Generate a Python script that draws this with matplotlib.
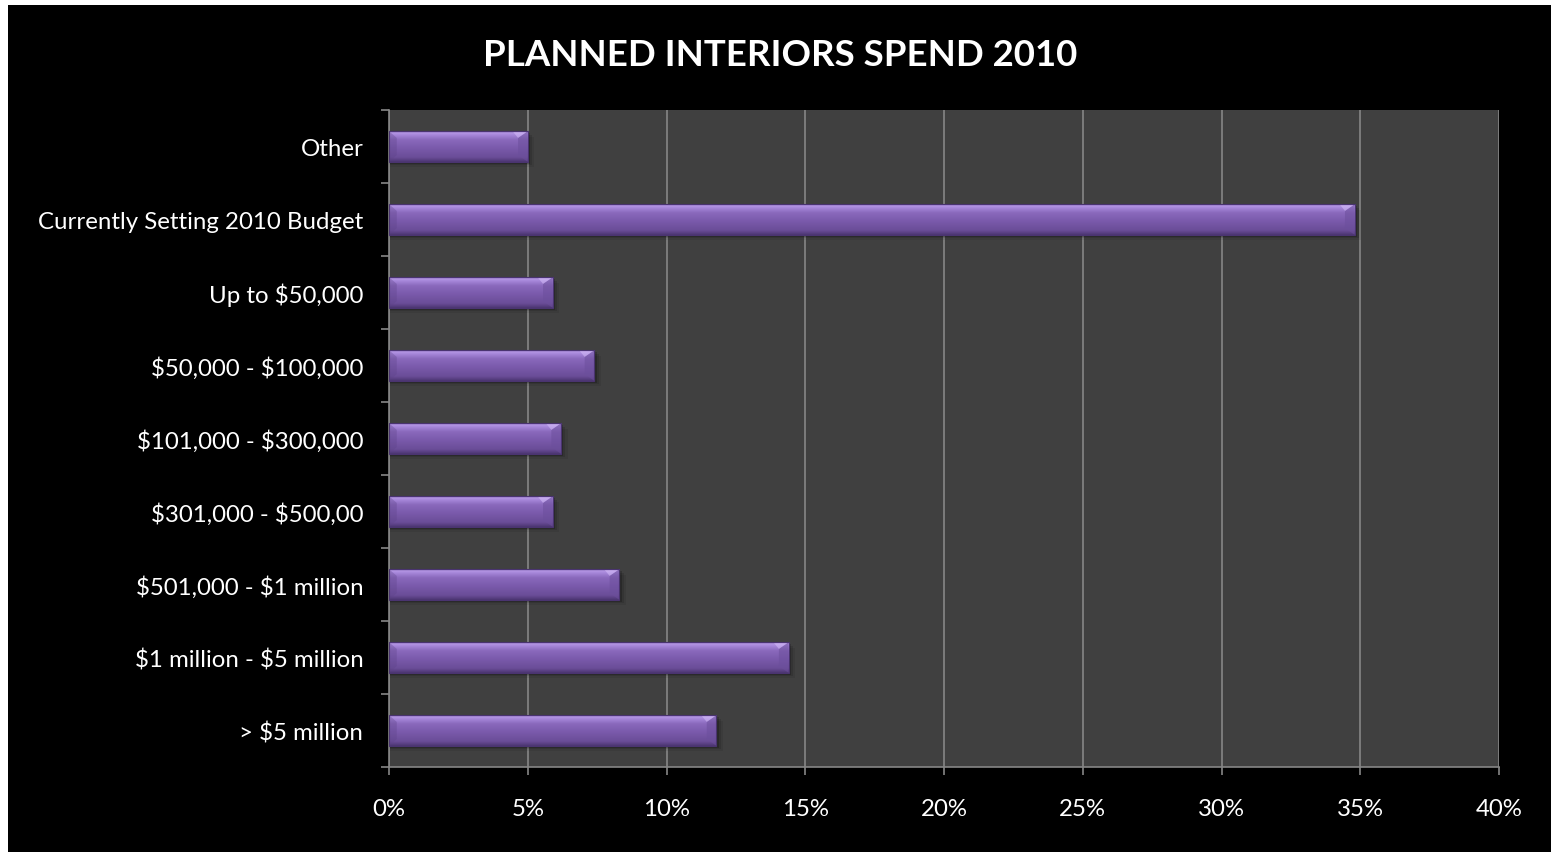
import numpy as np
import matplotlib
matplotlib.use("Agg")
import matplotlib.pyplot as plt
from matplotlib.patches import Rectangle, Polygon
from matplotlib.colors import LinearSegmentedColormap
from matplotlib.ticker import FixedLocator, FuncFormatter

plt.rcParams["text.parse_math"] = False

# Survey categories, listed top to bottom
categories = [
    "Other",
    "Currently Setting 2010 Budget",
    "Up to $50,000",
    "$50,000 - $100,000",
    "$101,000 - $300,000",
    "$301,000 - $500,00",
    "$501,000 - $1 million",
    "$1 million - $5 million",
    "> $5 million",
]
# Share of respondents (%)
shares = [5.0, 34.8, 5.9, 7.4, 6.2, 5.9, 8.3, 14.4, 11.8]
x_ticks = [0, 5, 10, 15, 20, 25, 30, 35, 40]

title = "PLANNED INTERIORS SPEND 2010"
font = "Lato"

W, H = 1551, 853
fig = plt.figure(figsize=(W / 100, H / 100), dpi=100, facecolor="black")
# thin white margin along the top and left edges
fig.add_artist(Rectangle((0, 1 - 6 / H), 1, 6 / H, transform=fig.transFigure,
                         facecolor="white", edgecolor="none", zorder=-10))
fig.add_artist(Rectangle((0, 0), 8 / W, 1, transform=fig.transFigure,
                         facecolor="white", edgecolor="none", zorder=-10))

ax = fig.add_axes([389 / W, 1 - 768 / H, (1499 - 389) / W, (768 - 111) / H])
ax.set_zorder(5)
ax.set_facecolor("#404040")

grid_col = "#868686"
bar_h = 0.42
ypos = np.arange(len(categories))

# vertical shading of the bevelled bars (top -> bottom)
bar_cmap = LinearSegmentedColormap.from_list("bevel", [
    (0.00, "#5a4284"),
    (0.05, "#b597e6"),
    (0.14, "#a383d6"),
    (0.28, "#8a69bc"),
    (0.55, "#7a5aab"),
    (0.85, "#6a4d98"),
    (1.00, "#4b3570"),
])
grad = np.linspace(0, 1, 256).reshape(-1, 1)

bars = ax.barh(ypos, shares, height=bar_h, facecolor="none",
               edgecolor="none", zorder=3)

for rect, val, y in zip(bars, shares, ypos):
    y0 = y - bar_h / 2
    # soft drop shadow
    for k, a in enumerate([0.18, 0.12, 0.07]):
        off = 0.025 * (k + 1)
        ax.add_patch(Rectangle((0, y0 + off), val + 0.08 * (k + 1), bar_h,
                               facecolor="black", alpha=a, edgecolor="none",
                               zorder=2))
    im = ax.imshow(grad, cmap=bar_cmap, aspect="auto",
                   extent=(0, val, y0 + bar_h, y0), zorder=3,
                   interpolation="bilinear")
    im.set_clip_path(rect)
    # bevelled right end
    bev_w = 0.35
    bev_h = bar_h * 0.22
    ax.add_patch(Polygon([(val - bev_w, y0 + bev_h), (val, y0),
                          (val, y0 + bar_h), (val - bev_w, y0 + bar_h - bev_h)],
                         closed=True, facecolor="#6c4f9c", alpha=0.55,
                         edgecolor="none", zorder=4))
    ax.add_patch(Polygon([(val - bev_w, y0 + bev_h), (val, y0),
                          (val - bev_w - 0.2, y0)],
                         closed=True, facecolor="#d9c2fb", alpha=0.5,
                         edgecolor="none", zorder=4))
    # bevelled left end
    ax.add_patch(Polygon([(0, y0), (bev_w * 0.8, y0 + bev_h),
                          (bev_w * 0.8, y0 + bar_h - bev_h), (0, y0 + bar_h)],
                         closed=True, facecolor="#5e4389", alpha=0.35,
                         edgecolor="none", zorder=4))
    ax.add_patch(Rectangle((0, y0), val, bar_h, facecolor="none",
                           edgecolor="#4a3470", linewidth=0.8, zorder=5))

ax.set_xlim(0, 40)
ax.set_ylim(len(categories) - 0.5, -0.5)

ax.xaxis.set_major_locator(FixedLocator(x_ticks))
ax.xaxis.set_major_formatter(FuncFormatter(lambda v, p: f"{v:.0f}%"))
ax.grid(axis="x", color=grid_col, linewidth=1.2, zorder=1)
ax.set_axisbelow(True)

ax.set_yticks(ypos)
ax.set_yticklabels(categories)
ax.set_yticks(np.arange(-0.5, len(categories), 1.0), minor=True)

ax.tick_params(axis="y", which="major", length=0, pad=18.5,
               labelcolor="white", labelsize=17.3)
ax.tick_params(axis="y", which="minor", length=6, width=1.2,
               color=grid_col, direction="out")
ax.tick_params(axis="x", which="major", length=6, width=1.2,
               color=grid_col, direction="out", pad=16,
               labelcolor="white", labelsize=17.3)

for lab in ax.get_xticklabels() + ax.get_yticklabels():
    lab.set_fontfamily(font)

for side in ["top", "right"]:
    ax.spines[side].set_visible(False)
for side in ["left", "bottom"]:
    ax.spines[side].set_color(grid_col)
    ax.spines[side].set_linewidth(1.2)

fig.text(780 / W, 1 - 56 / H, title, ha="center", va="center",
         color="white", fontsize=26.4, fontweight="bold", fontfamily=font)

fig.savefig("out.png", dpi=100, facecolor=fig.get_facecolor())
